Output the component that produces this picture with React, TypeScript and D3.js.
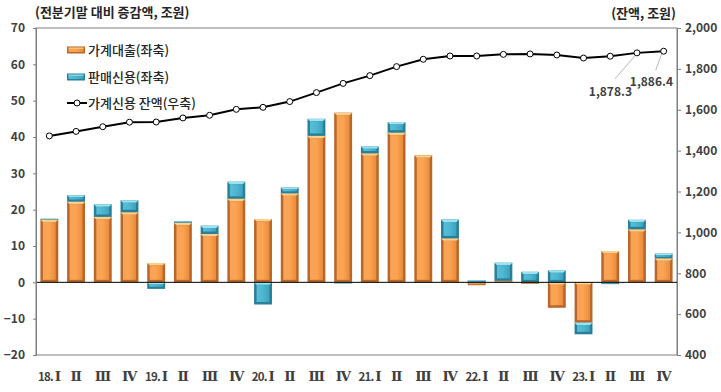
import React, { useEffect, useRef } from 'react';
import * as d3 from 'd3';

const quarters = [
  '18. Ⅰ', 'Ⅱ', 'Ⅲ', 'Ⅳ',
  '19. Ⅰ', 'Ⅱ', 'Ⅲ', 'Ⅳ',
  '20. Ⅰ', 'Ⅱ', 'Ⅲ', 'Ⅳ',
  '21. Ⅰ', 'Ⅱ', 'Ⅲ', 'Ⅳ',
  '22. Ⅰ', 'Ⅱ', 'Ⅲ', 'Ⅳ',
  '23. Ⅰ', 'Ⅱ', 'Ⅲ', 'Ⅳ',
];

// 가계대출 증감액 (좌축, 조원)
const loans = [
  17.3, 22.2, 18.0, 19.3,
  5.3, 16.4, 13.3, 23.0,
  17.4, 24.5, 40.3, 46.7,
  35.5, 41.2, 35.0, 12.1,
  -0.8, 0.4, -0.4, -7.0,
  -11.1, 8.6, 14.6, 6.6,
];

// 판매신용 증감액 (좌축, 조원)
const salesCredit = [
  0.2, 1.8, 3.5, 3.3,
  -1.8, 0.4, 2.3, 4.7,
  -6.1, 1.6, 4.7, -0.3,
  1.9, 2.9, -0.1, 5.2,
  0.6, 5.0, 2.9, 3.3,
  -3.2, -0.5, 2.6, 1.3,
];

// 가계신용 잔액 (우축, 조원)
const balance = [
  1472, 1494, 1517, 1539,
  1540, 1560, 1573, 1602,
  1612, 1640, 1684, 1729,
  1767, 1811, 1847, 1863,
  1863, 1871, 1873, 1868,
  1853, 1862, 1878.3, 1886.4,
];

const leftTicks = [-20, -10, 0, 10, 20, 30, 40, 50, 60, 70];
const rightTicks = [400, 600, 800, 1000, 1200, 1400, 1600, 1800, 2000];

const FONT = '"Noto Sans CJK KR", "Noto Sans", sans-serif';
const SERIF = '"DejaVu Serif", "Liberation Serif", serif';

const App = () => {
  const svgRef = useRef<SVGSVGElement>(null);

  useEffect(() => {
    const width = 721;
    const height = 392;
    const m = { left: 36, right: 677, top: 28, bottom: 355 };

    const svg = d3.select(svgRef.current);
    svg.selectAll('*').remove();
    svg.attr('width', width).attr('height', height);

    const x = d3
      .scaleBand()
      .domain(quarters.map((_, i) => String(i)))
      .range([m.left, m.right])
      .paddingInner(0.33)
      .paddingOuter(0.165);
    const yL = d3.scaleLinear().domain([-20, 70]).range([m.bottom, m.top]);
    const yR = d3.scaleLinear().domain([400, 2000]).range([m.bottom, m.top]);

    // gradients
    const defs = svg.append('defs');
    const grad = (id: string, stops: [number, string][]) => {
      const g = defs.append('linearGradient').attr('id', id).attr('x1', 0).attr('x2', 1).attr('y1', 0).attr('y2', 0);
      stops.forEach(([o, c]) => g.append('stop').attr('offset', o).attr('stop-color', c));
    };
    grad('gOrange', [[0, '#f7a457'], [0.5, '#fba352'], [1, '#e98b3a']]);
    grad('gBlue', [[0, '#58bfd8'], [0.5, '#4fb6d0'], [1, '#3ca3bf']]);

    const colors = {
      loans: { fill: 'url(#gOrange)', edge: '#b8672a', light: '#ffd08c' },
      sales: { fill: 'url(#gBlue)', edge: '#2a7f98', light: '#9be3f2' },
    };

    // plot frame
    svg
      .append('rect')
      .attr('x', m.left)
      .attr('y', m.top)
      .attr('width', m.right - m.left)
      .attr('height', m.bottom - m.top)
      .attr('fill', 'none')
      .attr('stroke', '#7f7f7f')
      .attr('stroke-width', 1);

    // stacked data
    const rows = quarters.map((q, i) => ({ key: String(i), loans: loans[i], sales: salesCredit[i] }));
    const series = d3
      .stack<any>()
      .keys(['loans', 'sales'])
      .offset(d3.stackOffsetDiverging)(rows);

    const bw = x.bandwidth();
    series.forEach((s) => {
      const c = colors[s.key as 'loans' | 'sales'];
      s.forEach((d) => {
        const x0 = x(d.data.key)!;
        const yTop = yL(Math.max(d[0], d[1]));
        const yBot = yL(Math.min(d[0], d[1]));
        const h = yBot - yTop;
        if (h <= 0) return;
        const g = svg.append('g');
        g.append('rect').attr('x', x0).attr('y', yTop).attr('width', bw).attr('height', h).attr('fill', c.edge);
        const b = Math.min(2.5, h / 3);
        // top bevel
        g.append('polygon')
          .attr('points', `${x0},${yTop} ${x0 + bw},${yTop} ${x0 + bw - b},${yTop + b} ${x0 + b},${yTop + b}`)
          .attr('fill', c.light);
        g.append('rect')
          .attr('x', x0 + b)
          .attr('y', yTop + b)
          .attr('width', bw - 2 * b)
          .attr('height', Math.max(0, h - 2 * b))
          .attr('fill', c.fill);
      });
    });

    // zero line
    svg
      .append('line')
      .attr('x1', m.left)
      .attr('x2', m.right)
      .attr('y1', yL(0))
      .attr('y2', yL(0))
      .attr('stroke', '#000')
      .attr('stroke-width', 1);

    // left axis
    const leftAxis = svg
      .append('g')
      .attr('transform', `translate(${m.left},0)`)
      .call(d3.axisLeft(yL).tickValues(leftTicks).tickSize(3).tickPadding(8).tickFormat(d3.format('d')));
    // right axis
    const rightAxis = svg
      .append('g')
      .attr('transform', `translate(${m.right},0)`)
      .call(d3.axisRight(yR).tickValues(rightTicks).tickSize(4).tickPadding(4).tickFormat(d3.format(',')));
    [leftAxis, rightAxis].forEach((a) => {
      a.select('.domain').attr('stroke', '#7f7f7f');
      a.selectAll('.tick line').attr('stroke', '#7f7f7f');
      a.selectAll('text')
        .attr('font-family', FONT)
        .attr('font-size', 12)
        .attr('font-weight', 'bold')
        .attr('fill', '#404040');
    });

    // x labels: year part in sans, roman numeral in serif
    const xl = svg
      .append('g')
      .selectAll('text')
      .data(quarters)
      .join('text')
      .attr('x', (_, i) => x(String(i))! + bw / 2)
      .attr('y', 381)
      .attr('text-anchor', 'middle')
      .attr('font-weight', 'bold')
      .attr('fill', '#404040');
    xl.each(function (d) {
      const t = d3.select(this);
      const parts = d.split(' ');
      if (parts.length > 1) {
        t.append('tspan').attr('font-family', FONT).attr('font-size', 11.5).attr('letter-spacing', -0.8).text(parts[0] + ' ');
      }
      t.append('tspan').attr('font-family', SERIF).attr('font-size', 13.5).attr('letter-spacing', -0.5).text(parts[parts.length - 1]);
    });

    // balance line
    const cx = (i: number) => x(String(i))! + bw / 2;
    const line = d3
      .line<number>()
      .x((_, i) => cx(i))
      .y((d) => yR(d));
    svg
      .append('path')
      .datum(balance)
      .attr('d', line)
      .attr('fill', 'none')
      .attr('stroke', '#000')
      .attr('stroke-width', 2);
    svg
      .append('g')
      .selectAll('circle')
      .data(balance)
      .join('circle')
      .attr('cx', (_, i) => cx(i))
      .attr('cy', (d) => yR(d))
      .attr('r', 3)
      .attr('fill', '#fff')
      .attr('stroke', '#000')
      .attr('stroke-width', 1);

    // value labels for last two points
    const n = balance.length;
    const labels = [
      { i: n - 2, lx: -22, ly: 26, tx: 632, ty: 96 },
      { i: n - 1, lx: -8, ly: 19, tx: 673, ty: 86 },
    ];
    labels.forEach((l) => {
      const px = cx(l.i);
      const py = yR(balance[l.i]);
      svg
        .append('line')
        .attr('x1', px - 2)
        .attr('y1', py + 3)
        .attr('x2', px + l.lx)
        .attr('y2', py + l.ly)
        .attr('stroke', '#a6a6a6')
        .attr('stroke-width', 0.8);
      svg
        .append('text')
        .attr('x', l.tx)
        .attr('y', l.ty)
        .attr('text-anchor', 'end')
        .attr('font-family', FONT)
        .attr('font-size', 12)
        .attr('font-weight', 'bold')
        .attr('fill', '#404040')
        .text(d3.format(',.1f')(balance[l.i]));
    });

    // titles
    svg
      .append('text')
      .attr('x', 35)
      .attr('y', 17)
      .attr('font-family', FONT)
      .attr('font-size', 13)
      .attr('font-weight', 'bold')
      .attr('fill', '#262626')
      .text('(전분기말 대비 증감액, 조원)');
    svg
      .append('text')
      .attr('x', 676)
      .attr('y', 18)
      .attr('text-anchor', 'end')
      .attr('font-family', FONT)
      .attr('font-size', 13)
      .attr('font-weight', 'bold')
      .attr('fill', '#262626')
      .text('(잔액, 조원)');

    // legend
    const lg = svg.append('g').attr('transform', 'translate(67,0)');
    const legendItems = [
      { label: '가계대출(좌축)', c: colors.loans, y: 50 },
      { label: '판매신용(좌축)', c: colors.sales, y: 77 },
    ];
    legendItems.forEach((it) => {
      lg.append('rect').attr('x', 0).attr('y', it.y - 3.5).attr('width', 18).attr('height', 7).attr('fill', it.c.edge);
      lg.append('rect').attr('x', 1.5).attr('y', it.y - 2).attr('width', 15).attr('height', 4).attr('fill', it.c.fill);
      lg.append('rect').attr('x', 1.5).attr('y', it.y - 2.5).attr('width', 15).attr('height', 1.2).attr('fill', it.c.light);
      lg.append('text')
        .attr('x', 21)
        .attr('y', it.y + 5)
        .attr('font-family', FONT)
        .attr('font-size', 13)
        .attr('font-weight', 500)
        .attr('fill', '#262626')
        .text(it.label);
    });
    lg.append('line').attr('x1', 0).attr('x2', 20).attr('y1', 103).attr('y2', 103).attr('stroke', '#000').attr('stroke-width', 2);
    lg.append('circle').attr('cx', 10).attr('cy', 103).attr('r', 3).attr('fill', '#fff').attr('stroke', '#000');
    lg.append('text')
      .attr('x', 21)
      .attr('y', 108)
      .attr('font-family', FONT)
      .attr('font-size', 13)
      .attr('font-weight', 500)
      .attr('fill', '#262626')
      .text('가계신용 잔액(우축)');
  }, []);

  return <svg ref={svgRef} style={{ position: 'absolute', left: 0, top: 0 }}></svg>;
};

export default App;
